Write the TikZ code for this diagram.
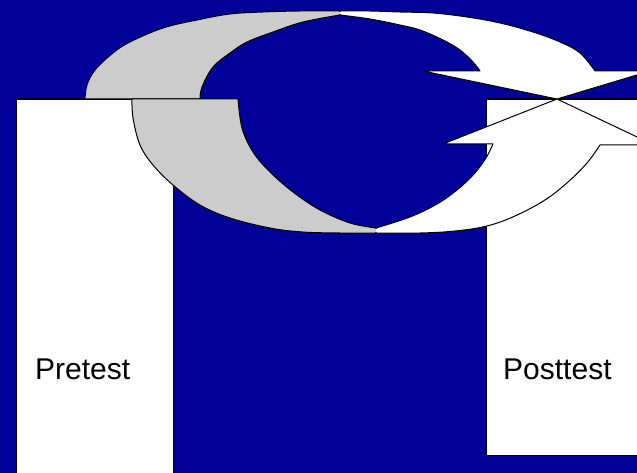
\documentclass[tikz,border=0pt]{standalone}
\usepackage{fontspec}
\setmainfont{Liberation Sans}
\definecolor{bgblue}{RGB}{0,0,153}
\definecolor{ringgrey}{RGB}{204,204,204}
\begin{document}
\begin{tikzpicture}[x=1pt,y=-1pt,
  panel/.style={fill=white,draw=black,line width=1.6pt},
  ring/.style={draw=black,line width=1pt,line join=round},
  label/.style={anchor=base west,inner sep=0pt,font=\fontsize{30}{36}\selectfont}]
\useasboundingbox (0,0) rectangle (637,473);
\clip (0,0) rectangle (637,473);
\fill[bgblue] (0,0) rectangle (637,473);
% panels
\filldraw[panel] (16.5,99) rectangle (173.5,490);
\filldraw[panel] (486,99) rectangle (660,455.5);
% upper grey piece
\filldraw[ring,fill=ringgrey] plot[smooth,tension=0.6] coordinates {(85,99) (87,85) (95,70) (113,53) (130,42) (163,28) (197,20) (230,14) (263,12) (300,11) (340,11)}
  -- plot[smooth,tension=0.6] coordinates {(340,15) (303,22) (273,32) (247,42) (230,53) (213,67) (202,87) (200,99)} -- cycle;
% lower grey piece
\filldraw[ring,fill=ringgrey] plot[smooth,tension=0.6] coordinates {(132,99) (133,118) (140,145) (153,165) (173,185) (200,205) (230,218) (270,228) (303,232) (340,233) (376,233)}
  -- plot[smooth,tension=0.6] coordinates {(376,228) (350,223) (320,210) (293,192) (270,172) (253,152) (242,128) (238,99)} -- cycle;
% upper white arrow
\filldraw[ring,fill=white] plot[smooth,tension=0.6] coordinates {(340,11) (370,11) (400,12) (433,13) (467,17) (500,23) (533,32) (560,42) (580,53) (595,71)}
  -- (650,71) -- (557,99) -- (423,71) -- (480,71)
  -- plot[smooth,tension=0.6] coordinates {(480,71) (473,62) (460,50) (443,40) (420,30) (400,25) (370,19) (340,15)} -- cycle;
% lower white arrow
\filldraw[ring,fill=white] plot[smooth,tension=0.6] coordinates {(376,233) (420,233) (455,231) (487,226) (515,216) (545,200) (568,182) (587,163) (600,145)}
  -- (654,145) -- (557,99) -- (443,144) -- (493,144)
  -- plot[smooth,tension=0.6] coordinates {(493,144) (486,158) (474,174) (457,190) (437,204) (410,217) (376,228)} -- cycle;
% soften the grey/white joins
\fill[ringgrey] (338.8,12) rectangle (339.8,14.4);
\fill[white] (339.8,12) rectangle (341.2,14.4);
\fill[ringgrey] (374.8,228.8) rectangle (375.8,232.4);
\fill[white] (375.8,228.8) rectangle (377.2,232.4);
% labels
\node[label] (pre) at (35,379) {Pretest};
\node[label] (post) at (503,379) {Posttest};
\end{tikzpicture}
\end{document}
